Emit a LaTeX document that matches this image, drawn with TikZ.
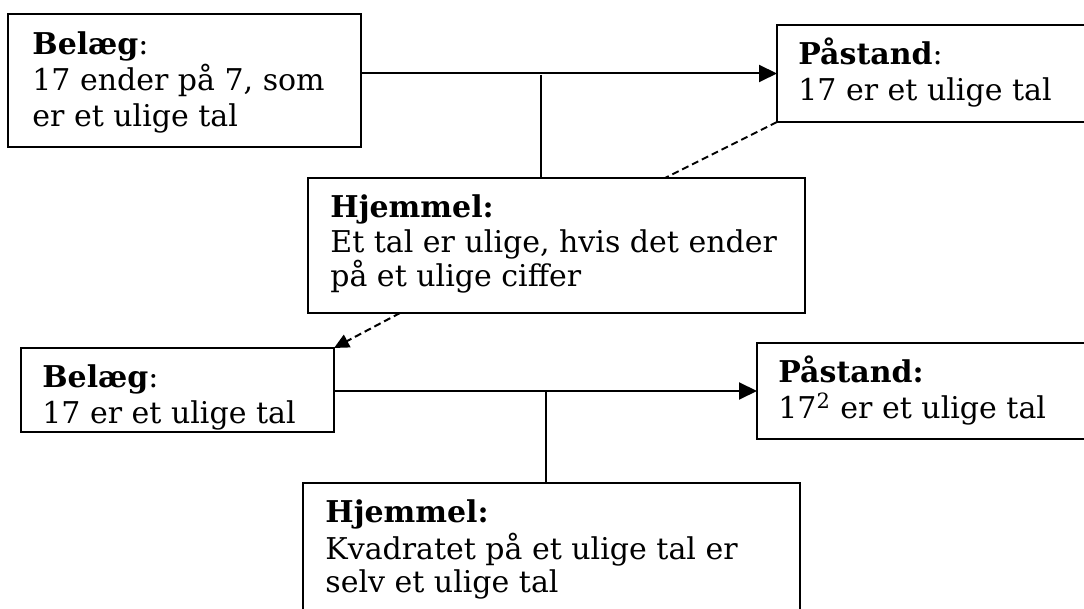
\documentclass[tikz,border=0pt]{standalone}
\usepackage{fontspec}
\setmainfont{DejaVu Serif}
\usetikzlibrary{arrows.meta,calc}
\begin{document}
\begin{tikzpicture}[x=0.5pt,y=-0.5pt,
  box/.style={draw, line width=1pt, anchor=north west, inner sep=0pt, outer sep=0pt},
  txt/.style={anchor=base west, inner sep=0pt, font=\fontsize{15}{18}\selectfont},
  hd/.style={anchor=base west, inner sep=0pt, font=\fontsize{15}{18}\selectfont\bfseries},
  conn/.style={line width=1pt},
  arr/.style={conn, -{Triangle[length=9pt,width=8.5pt]}},
  dsh/.style={conn, dash pattern=on 3.5pt off 2pt}]
\useasboundingbox (0,0) rectangle (1084,609);
\clip (0,0) rectangle (1084,609);
% boxes
\node[box, minimum width=176.5pt, minimum height=66.5pt] (b1) at (8,14) {};
\node[box, minimum width=165pt, minimum height=48.5pt] (p1) at (777,25) {};
\node[box, minimum width=248.5pt, minimum height=67.5pt] (h1) at (308,178) {};
\node[box, minimum width=156.5pt, minimum height=42pt] (b2) at (21,348) {};
\node[box, minimum width=170pt, minimum height=48pt] (p2) at (757,343) {};
\node[box, minimum width=248.5pt, minimum height=75pt] (h2) at (303,483) {};
% texts
\node[hd] (b1a) at ($(b1.north west)+(24,41)$) {Belæg\textmd{:}};
\node[txt] (b1b) at ($(b1.north west)+(24,77)$) {17 ender på 7, som};
\node[txt] (b1c) at ($(b1.north west)+(24,113)$) {er et ulige tal};
\node[hd] (p1a) at ($(p1.north west)+(21,40)$) {Påstand\textmd{:}};
\node[txt] (p1b) at ($(p1.north west)+(21,76)$) {17 er et ulige tal};
\node[hd] (h1a) at ($(h1.north west)+(22,40)$) {Hjemmel:};
\node[txt] (h1b) at ($(h1.north west)+(22,75)$) {Et tal er ulige, hvis det ender};
\node[txt] (h1c) at ($(h1.north west)+(22,109)$) {på et ulige ciffer};
\node[hd] (b2a) at ($(b2.north west)+(21,40)$) {Belæg\textmd{:}};
\node[txt] (b2b) at ($(b2.north west)+(21,76)$) {17 er et ulige tal};
\node[hd] (p2a) at ($(p2.north west)+(21,40)$) {Påstand:};
\node[txt] (p2b) at ($(p2.north west)+(21,76)$) {17\textsuperscript{2} er et ulige tal};
\node[hd] (h2a) at ($(h2.north west)+(22,40)$) {Hjemmel:};
\node[txt] (h2b) at ($(h2.north west)+(22,77)$) {Kvadratet på et ulige tal er};
\node[txt] (h2c) at ($(h2.north west)+(22,110)$) {selv et ulige tal};
% connectors
\draw[arr] (b1.east |- p1.west) -- (p1.west);
\coordinate (j1) at (541,75);
\draw[conn] (j1) -- (j1 |- h1.north);
\draw[arr] (b2.east |- p2.west) -- (p2.west);
\coordinate (j2) at (546,391);
\draw[conn] (j2) -- (j2 |- h2.north);
\coordinate (d1) at (665,178);
\draw[dsh] (p1.south west) -- (d1);
\coordinate (d2) at (400,313);
\draw[dsh, -{Triangle[length=7.5pt,width=7pt]}] (d2) -- (b2.north east);
\end{tikzpicture}
\end{document}
